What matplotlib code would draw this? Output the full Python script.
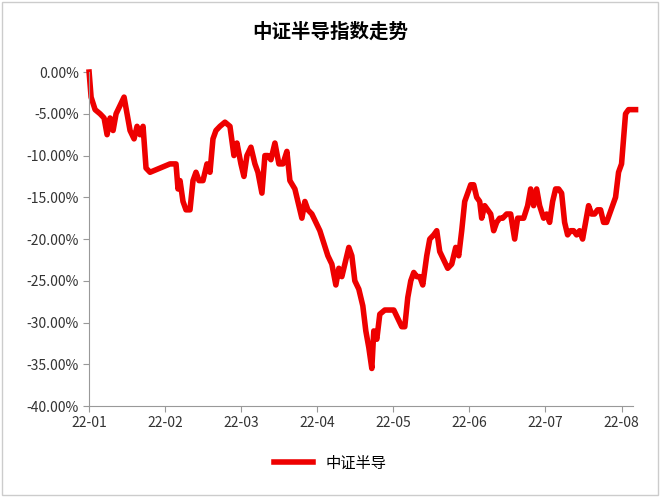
import matplotlib
matplotlib.use("Agg")
import matplotlib.pyplot as plt
import numpy as np

plt.rcParams['font.family'] = ['Noto Sans CJK SC', 'DejaVu Sans']

title = "中证半导指数走势"
series_name = "中证半导"
month_labels = ["22-01", "22-02", "22-03", "22-04", "22-05", "22-06", "22-07", "22-08"]
# horizontal positions (pixel columns; 89 = 22-01, 76.14 px per month)
x_read = [89,91,95,100,104,107,110,113,116,120,124,127,130,134,137,140,143,146,150,160,170,176,178,180,183,186,190,193,196,199,203,207,210,213,216,220,225,230,234,237,241,244,247,251,255,258,262,265,268,271,275,279,283,287,290,295,299,302,305,308,312,316,320,324,328,332,336,339,342,345,349,352,355,359,363,366,369,372,374,377,380,385,390,394,398,402,405,408,411,414,417,420,423,427,430,434,437,440,444,448,452,456,459,462,465,468,471,474,477,480,482,485,488,491,494,497,500,503,507,511,515,518,521,524,528,531,534,537,540,544,547,550,553,556,559,562,565,568,571,574,577,580,583,586,589,592,595,598,601,604,607,610,613,616,619,622,624,626,629,636]
values = [0,-3,-4.5,-5,-5.5,-7.5,-5.5,-7,-5,-4,-3,-5,-7,-8,-6.5,-7.5,-6.5,-11.5,-12,-11.5,-11,-11,-14,-13,-15.5,-16.5,-16.5,-13,-12,-13,-13,-11,-12,-8,-7,-6.5,-6,-6.5,-10,-8.5,-11,-12.5,-10,-9,-11,-12,-14.5,-10,-10,-10.5,-8.5,-11,-11,-9.5,-13,-14,-16,-17.5,-15.5,-16.5,-17,-18,-19,-20.5,-22,-23,-25.5,-23.5,-24.5,-23,-21,-22,-25,-26,-28,-31,-33,-35.5,-31,-32,-29,-28.5,-28.5,-28.5,-29.5,-30.5,-30.5,-27,-25,-24,-24.5,-24.5,-25.5,-22,-20,-19.5,-19,-21.5,-22.5,-23.5,-23,-21,-22,-19,-15.5,-14.5,-13.5,-13.5,-15,-15.5,-17.5,-16,-16.5,-17,-19,-18,-17.5,-17.5,-17,-17,-20,-17.5,-17.5,-17.5,-16,-14,-16,-14,-16,-17.5,-17,-18,-15.5,-14,-14,-14.5,-18,-19.5,-19,-19,-19.5,-19,-20,-18,-16,-17,-17,-16.5,-16.5,-18,-18,-17,-16,-15,-12,-11,-8,-5,-4.5,-4.5]

months = (np.array(x_read) - 89) / 76.14

fig = plt.figure(figsize=(6.6, 4.97), dpi=100)
ax = fig.add_axes([0.135, 0.183, 0.824, 0.672])
ax.plot(months, values, color='#ee0000', lw=4, solid_joinstyle='round', clip_on=False, label=series_name)
ax.set_xlim(0, 7.15)
ax.set_ylim(-40, 0)
ax.set_xticks(range(len(month_labels)))
ax.set_xticklabels(month_labels, fontsize=10)
yt = np.arange(-40, 1, 5)
ax.set_yticks(yt)
ax.set_yticklabels([f"{v:.2f}%" for v in yt], fontsize=10)
ax.spines['top'].set_visible(False)
ax.spines['right'].set_visible(False)
for s in ['left', 'bottom']:
    ax.spines[s].set_color('#999999')
ax.tick_params(colors='#333333', color='#999999', length=4)
fig.text(0.5, 0.935, title, ha='center', va='center', fontsize=14, fontweight='bold')
fig.legend(loc='center', bbox_to_anchor=(0.5, 0.068), frameon=False, fontsize=11,
           handlelength=2.6)
fig.patches.append(plt.Rectangle((0.003, 0.004), 0.994, 0.992, transform=fig.transFigure,
                                 fill=False, edgecolor='#cccccc', lw=1))
fig.savefig("out.png", dpi=100)
